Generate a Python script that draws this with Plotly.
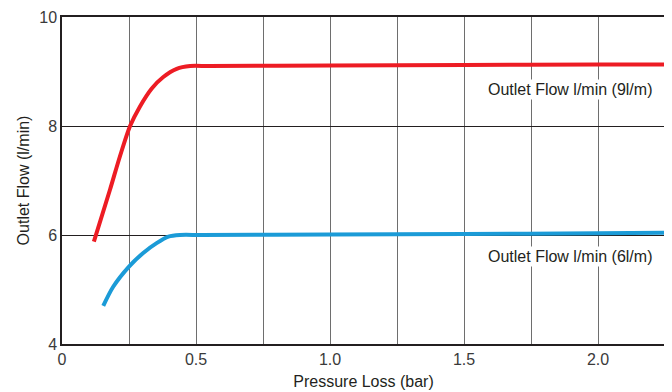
import plotly.graph_objects as go

# Data
red_x = [0.119, 0.179, 0.216, 0.254, 0.291, 0.335, 0.378, 0.428, 0.478, 0.55, 1.0, 1.5, 2.0, 2.25]
red_y = [5.88, 6.83, 7.44, 8.0, 8.36, 8.69, 8.90, 9.05, 9.10, 9.10, 9.11, 9.12, 9.13, 9.13]
blue_x = [0.154, 0.191, 0.25, 0.303, 0.353, 0.397, 0.44, 0.52, 1.0, 1.5, 2.0, 2.25]
blue_y = [4.70, 5.05, 5.42, 5.67, 5.85, 5.97, 6.0, 6.0, 6.01, 6.02, 6.03, 6.04]

x_tickvals = [0, 0.25, 0.5, 0.75, 1.0, 1.25, 1.5, 1.75, 2.0, 2.25]
x_ticktext = ["0", "", "0.5", "", "1.0", "", "1.5", "", "2.0", ""]
y_tickvals = [4, 6, 8, 10]
y_ticktext = ["4", "6", "8", "10"]

label_9 = "Outlet Flow l/min (9l/m)"
label_6 = "Outlet Flow l/min (6l/m)"

FONT = "Liberation Sans, Arial, sans-serif"
TXT = "#231F20"

fig = go.Figure()
fig.add_trace(go.Scatter(x=red_x, y=red_y, mode="lines",
                         line=dict(color="#ED1C24", width=4, shape="spline", smoothing=0.8),
                         showlegend=False, hoverinfo="skip"))
fig.add_trace(go.Scatter(x=blue_x, y=blue_y, mode="lines",
                         line=dict(color="#1B9BD7", width=4, shape="spline", smoothing=0.8),
                         showlegend=False, hoverinfo="skip"))

fig.add_annotation(x=1.895, y=8.67, text=label_9, showarrow=False, bgcolor="white",
                   font=dict(family=FONT, size=16, color=TXT), xanchor="center", yanchor="middle")
fig.add_annotation(x=1.895, y=5.6, text=label_6, showarrow=False, bgcolor="white",
                   font=dict(family=FONT, size=16, color=TXT), xanchor="center", yanchor="middle")

# page body has an 8px margin; figure is sized to fit the 672x392 window
fig.update_layout(
    width=664, height=384,
    margin=dict(l=54, r=7, t=9, b=48),
    plot_bgcolor="white", paper_bgcolor="white",
    font=dict(family=FONT, size=16, color=TXT),
    xaxis=dict(range=[0, 2.25], tickvals=x_tickvals, ticktext=x_ticktext,
               showgrid=True, gridcolor="#6E6E6E", gridwidth=1.3,
               showline=True, linecolor=TXT, linewidth=1.5, mirror=True,
               ticks="", zeroline=False, automargin=False,
               tickfont=dict(size=16, color="#3A3A3A"),
               title=dict(text="Pressure Loss (bar)", font=dict(size=16), standoff=9)),
    yaxis=dict(range=[4, 10], tickvals=y_tickvals, ticktext=y_ticktext,
               showgrid=True, gridcolor=TXT, gridwidth=1,
               showline=True, linecolor=TXT, linewidth=1.5, mirror=False,
               ticks="", zeroline=False, automargin=False,
               tickfont=dict(size=16, color="#3A3A3A"),
               title=dict(text="Outlet Flow (l/min)", font=dict(size=16), standoff=6)),
)
fig.write_html("out.html")
